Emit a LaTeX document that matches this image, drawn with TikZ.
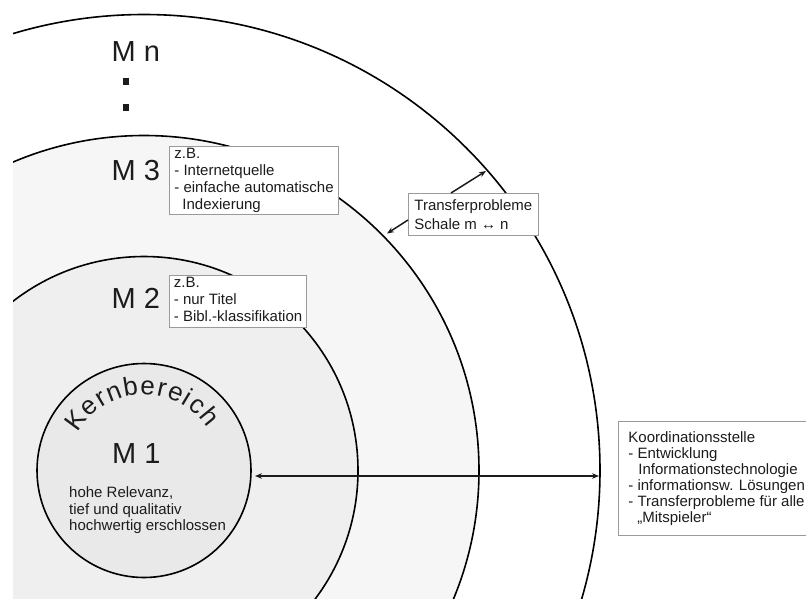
\documentclass[tikz,border=0pt]{standalone}
\usepackage{fontspec}
\setmainfont{Liberation Sans}
\usetikzlibrary{arrows.meta,calc}
\definecolor{ringthree}{HTML}{F6F6F6}
\definecolor{ringtwo}{HTML}{EFEFEF}
\definecolor{ringone}{HTML}{E9E9E9}
\definecolor{txt}{HTML}{1C1C1C}
\definecolor{boxline}{HTML}{9A9A9A}
\tikzset{
  ringline/.style={draw=black, line width=1.6pt},
  tbox/.style={draw=boxline, line width=0.8pt, fill=white, text=txt, align=left,
    anchor=north west, font=\fontsize{15}{17}\selectfont, inner xsep=5pt, inner ysep=1.8pt},
  biglabel/.style={text=txt, font=\fontsize{29}{34}\selectfont, inner sep=0pt, anchor=base west},
  kernletter/.style={text=txt, font=\fontsize{26}{30}\selectfont, inner sep=0pt, anchor=base},
  bodytext/.style={text=txt, font=\fontsize{15}{16.5}\selectfont, align=left, inner sep=0pt, anchor=north west},
  dotsq/.style={fill=txt, minimum size=6.5pt, inner sep=0pt},
  conn/.style={draw=txt, line width=1.5pt},
  onetip/.style={-{Stealth[length=7pt,width=5.5pt]}},
  twotips/.style={{Stealth[length=7pt,width=5.5pt]}-{Stealth[length=7pt,width=5.5pt]}}
}
\begin{document}
\begin{tikzpicture}[x=1pt,y=-1pt]
\useasboundingbox (0,0) rectangle (806,598);
\coordinate (C) at (144,470.5);
% rings
\begin{scope}
  \clip (13,0) rectangle (806,598);
  \fill[ringthree] (C) circle[radius=335pt];
  \fill[ringtwo] (C) circle[radius=214pt];
  \fill[ringone] (C) circle[radius=107pt];
  \draw[ringline] (C) circle[radius=107pt];
  \draw[ringline] (C) circle[radius=214pt];
  \draw[ringline] (C) circle[radius=335pt];
  \draw[ringline] (C) circle[radius=456pt];
\end{scope}
% labels
\node[biglabel] (mn) at (111.5,61.5) {M n};
\node[dotsq] (dot1) at (126,81.7) {};
\node[dotsq] (dot2) at (126,107.7) {};
\node[biglabel] (m3) at (111.5,180) {M 3};
\node[biglabel] (m2) at (111.5,308.5) {M 2};
\node[biglabel] (m1) at (112,463.5) {M 1};
% Kernbereich along arc
\foreach \a/\l [count=\i] in {143.5/K,130.76/e,120.91/r,111.06/n,99.28/b,87.5/e,77.66/r,67.81/e,58.93/i,50.53/c,39.24/h}
  \node[kernletter, rotate=\a-90] (kb\i) at ($(C)+(\a:76pt)$) {\l};
\node[bodytext] (m1text) at (69,486.7) {hohe Relevanz,\\tief und qualitativ\\hochwertig erschlossen};
% boxes
\node[tbox] (b3) at (169,146)
  {z.B.\\- Internetquelle\\- einfache automatische\\\hspace*{8pt}Indexierung};
\node[tbox, inner xsep=4.5pt] (b2) at (169,275)
  {z.B.\\- nur Titel\\- Bibl.-klassifikation\rule[-3.7pt]{0pt}{0pt}};
\node[tbox, inner xsep=6pt, inner ysep=6pt, font=\fontsize{15}{19}\selectfont] (tb) at (408,193)
  {Transferprobleme\\Schale m ↔ n};
\node[tbox, inner xsep=10pt, inner ysep=10pt, font=\fontsize{15}{16}\selectfont] (kb) at (618,421)
  {Koordinationsstelle\\- Entwicklung\\\hspace*{10pt}Informationstechnologie\\- informationsw. Lösungen\\- Transferprobleme für alle\\\hspace*{9pt}„Mitspieler“};
% connectors
\coordinate (coreedge) at (255,476);
\coordinate (outeredge) at (599,476);
\draw[conn, twotips] (coreedge) -- (outeredge);
\coordinate (outerhit) at (486,171);
\coordinate (threehit) at (387,233.5);
\draw[conn, onetip] ($(tb.north west)+(43,0)$) -- (outerhit);
\draw[conn, onetip] ($(tb.north west)+(0,27)$) -- (threehit);
\end{tikzpicture}
\end{document}
